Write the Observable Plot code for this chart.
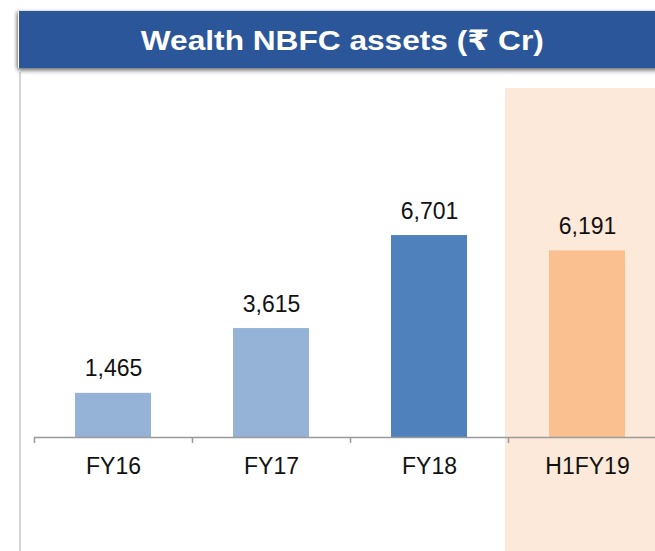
<!DOCTYPE html>
<html>
<head>
<meta charset="utf-8">
<script src="https://cdn.jsdelivr.net/npm/d3@7"></script>
<script src="https://cdn.jsdelivr.net/npm/@observablehq/plot@0.6"></script>
<style>
  html, body { margin: 0; padding: 0; background: #fff; }
  #wrap { position: relative; width: 655px; height: 551px; overflow: hidden; font-family: Arial, "Liberation Sans", sans-serif; }
  #banner {
    position: absolute; left: 18px; top: 11px; width: 660px; height: 57px;
    background: #2B569A;
    box-shadow: 0 3px 4px rgba(0,0,0,0.45), -2px 0 3px rgba(0,0,0,0.25);
    border-left: 1px solid #fff;
  }
  #title {
    position: absolute; left: 0; top: 0; width: 655px; height: 57px;
    display: flex; align-items: center; justify-content: center;
    color: #fff; font-weight: bold; font-size: 28px;
    font-family: Arial, "Liberation Sans", "DejaVu Sans", sans-serif;
  }
  #title span { display: inline-block; transform: scaleX(1.13); margin-left: -8px; margin-top: 2px; }
  #vline { position: absolute; left: 19px; top: 72px; width: 2px; height: 480px; background: #d6d6d6; }
  #chart { position: absolute; left: 0; top: 70px; }
  #chart g[aria-label="value-bars"] rect { filter: drop-shadow(1.5px 1px 1.5px rgba(0,0,0,0.3)); }
</style>
</head>
<body>
<div id="wrap">
  <div id="vline"></div>
  <div id="chart"></div>
  <div id="banner"><div id="title"><span>Wealth NBFC assets (₹ Cr)</span></div></div>
</div>
<script>
const categories = ["FY16", "FY17", "FY18", "H1FY19"];
const values = [1465, 3615, 6701, 6191];
const barColors = ["#95B3D7", "#95B3D7", "#4F81BD", "#FAC090"];
const highlighted = ["H1FY19"];

const data = categories.map((c, i) => ({cat: c, value: values[i], color: barColors[i]}));
const yMax = 11580;
const step = 158;

const chart = Plot.plot({
  width: 655,
  height: 481,
  marginTop: 18,
  marginBottom: 114,
  marginLeft: 34,
  marginRight: 0,
  style: {fontFamily: 'Arial, "Liberation Sans", sans-serif', background: "transparent", overflow: "visible"},
  x: {domain: categories, range: [34, 34 + step * categories.length], padding: 0, axis: null},
  y: {domain: [0, yMax], axis: null},
  color: {type: "identity"},
  marks: [
    Plot.barY(highlighted, {x: d => d, y1: 0, y2: yMax, fill: "#FDE9D9", insetBottom: -114, insetLeft: -3, ariaLabel: "highlight"}),
    Plot.barY(data, {x: "cat", y: "value", fill: "color", insetLeft: 41, insetRight: 41, ariaLabel: "value-bars"}),
    Plot.ruleY([0], {stroke: "#9a9a9a", strokeWidth: 1.5}),
    Plot.ruleX(categories, {x: d => d, y1: 0, y2: 0, dx: -step / 2, insetBottom: -6, stroke: "#9a9a9a", strokeWidth: 1.5}),
    Plot.text(data, {x: "cat", y: "value", text: d => d3.format(",")(d.value), lineAnchor: "bottom", dy: -17, fontSize: 23, fill: "#111"}),
    Plot.axisX({tickSize: 0, tickPadding: 20, fontSize: 23, label: null, color: "#111"})
  ]
});
document.getElementById("chart").appendChild(chart);
</script>
</body>
</html>
